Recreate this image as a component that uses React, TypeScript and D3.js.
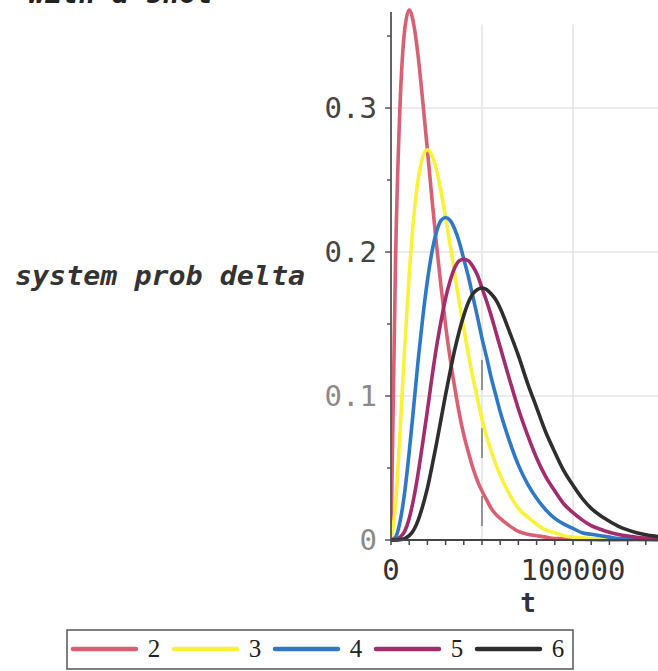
import React from "react";
import { scaleLinear, line, curveMonotoneX } from "d3";

// sampled times (t) for all curves
const tValues = [
  0, 2500, 5000, 7500, 10000, 12500, 15000, 17500, 20000, 22500, 25000, 27500,
  30000, 32500, 35000, 37500, 40000, 42500, 45000, 47500, 50000, 52500, 55000,
  57500, 60000, 65000, 70000, 75000, 80000, 85000, 90000, 95000, 100000,
  105000, 110000, 115000, 120000, 125000, 130000, 135000, 140000, 145000, 150000,
];

const s2 = [
  0, 0.195, 0.303, 0.354, 0.368, 0.358, 0.335, 0.304, 0.271, 0.237, 0.205, 0.176,
  0.149, 0.126, 0.106, 0.088, 0.073, 0.061, 0.05, 0.041, 0.034, 0.028, 0.022,
  0.018, 0.015, 0.01, 0.006, 0.004, 0.003, 0.002, 0.001, 0.001, 0.0005, 0.0003,
  0.0002, 0.0001, 0.0001, 0, 0, 0, 0, 0, 0,
];
const s3 = [
  0, 0.024, 0.076, 0.133, 0.184, 0.224, 0.251, 0.266, 0.271, 0.267, 0.257, 0.242,
  0.224, 0.205, 0.185, 0.165, 0.147, 0.129, 0.113, 0.098, 0.084, 0.072, 0.062,
  0.053, 0.045, 0.032, 0.022, 0.016, 0.011, 0.007, 0.005, 0.003, 0.002, 0.0015,
  0.001, 0.0007, 0.0004, 0.0003, 0.0002, 0.0001, 0.0001, 0.0001, 0,
];
const s4 = [
  0, 0.002, 0.013, 0.033, 0.061, 0.093, 0.126, 0.155, 0.18, 0.2, 0.214, 0.222,
  0.224, 0.222, 0.216, 0.207, 0.195, 0.183, 0.169, 0.155, 0.14, 0.127, 0.113,
  0.101, 0.089, 0.069, 0.052, 0.039, 0.029, 0.021, 0.015, 0.011, 0.008, 0.005,
  0.004, 0.003, 0.002, 0.001, 0.001, 0.0005, 0.0004, 0.0002, 0.0002,
];
const s5 = [
  0, 0.0001, 0.002, 0.006, 0.015, 0.029, 0.047, 0.068, 0.09, 0.113, 0.134, 0.152,
  0.168, 0.18, 0.189, 0.194, 0.195, 0.194, 0.19, 0.184, 0.175, 0.166, 0.156,
  0.145, 0.134, 0.112, 0.091, 0.073, 0.057, 0.044, 0.034, 0.025, 0.019, 0.014,
  0.01, 0.0075, 0.0054, 0.0038, 0.0027, 0.0019, 0.0013, 0.0009, 0.0006,
];
const s6 = [
  0, 0, 0.0002, 0.001, 0.003, 0.007, 0.014, 0.024, 0.036, 0.051, 0.067, 0.084,
  0.101, 0.117, 0.132, 0.145, 0.156, 0.165, 0.171, 0.174, 0.175, 0.174, 0.171,
  0.167, 0.161, 0.145, 0.128, 0.109, 0.092, 0.075, 0.061, 0.048, 0.038, 0.029,
  0.022, 0.017, 0.013, 0.0095, 0.007, 0.0051, 0.0037, 0.0027, 0.0019,
];

const seriesLabels = ["2", "3", "4", "5", "6"];
const seriesValues = [s2, s3, s4, s5, s6];
const seriesColors = ["#d95f73", "#f8f23c", "#2f78c8", "#a22c6c", "#2e2e2e"];

const yTicks = [0, 0.1, 0.2, 0.3];
const yMinorTicks = [0.05, 0.15, 0.25, 0.35];
const xTickLabels = [0, 100000];
const xGrid = [50000, 100000];
const markerT = 50000;
const markerTop = 0.125;

const title = "with a shot";
const yLabel = "system prob delta";
const xLabel = "t";

const W = 658;
const H = 671;
const mono = "'DejaVu Sans Mono', monospace";

export default function App() {
  const x = scaleLinear().domain([0, 150000]).range([391, 664]);
  const y = scaleLinear().domain([0, 0.3667]).range([540, 12]);

  const mkLine = (vals: number[]) =>
    line<number>()
      .x((_, i) => x(tValues[i]))
      .y((d) => y(d))
      .curve(curveMonotoneX)(vals) as string;

  const x0 = x(0);
  const y0 = y(0);

  return (
    <svg
      width={W}
      height={H}
      style={{ position: "absolute", left: 0, top: 0, background: "#fff" }}
    >
      {/* title, cut off by the top edge as in the source image */}
      <text
        x={28}
        y={3}
        fontFamily={mono}
        fontWeight="bold"
        fontStyle="italic"
        fontSize={28}
        textLength={185}
        lengthAdjust="spacingAndGlyphs"
        fill="#222"
      >
        {title}
      </text>

      {/* grid */}
      {yTicks.filter((d) => d > 0).map((d) => (
        <line key={"gy" + d} x1={x0} x2={W} y1={y(d)} y2={y(d)} stroke="#e6e6e6" strokeWidth={1.5} />
      ))}
      {xGrid.map((d) => (
        <line key={"gx" + d} x1={x(d)} x2={x(d)} y1={y(0.358)} y2={y0} stroke="#e3e3e3" strokeWidth={1.5} />
      ))}
      <line
        x1={x(markerT)}
        x2={x(markerT)}
        y1={y(markerTop)}
        y2={y0}
        stroke="#777"
        strokeWidth={1.5}
        strokeDasharray="30,38"
      />

      {/* curves */}
      <defs>
        <clipPath id="plotclip">
          <rect x={x0} y={0} width={W - x0} height={y0 + 2} />
        </clipPath>
      </defs>
      <g clipPath="url(#plotclip)">
        {seriesValues.map((vals, i) => (
          <path
            key={seriesLabels[i]}
            d={mkLine(vals)}
            fill="none"
            stroke={seriesColors[i]}
            strokeWidth={3.6}
            strokeLinejoin="round"
          />
        ))}
      </g>

      {/* axes */}
      <line x1={x0} x2={x0} y1={y(0.3667)} y2={y0} stroke="#555" strokeWidth={1.8} />
      <line x1={x0} x2={W} y1={y0} y2={y0} stroke="#444" strokeWidth={1.8} />
      {yTicks.map((d) => (
        <line key={"yt" + d} x1={x0 - 6} x2={x0} y1={y(d)} y2={y(d)} stroke="#555" strokeWidth={1.5} />
      ))}
      {yMinorTicks.map((d) => (
        <line key={"ym" + d} x1={x0 - 4} x2={x0} y1={y(d)} y2={y(d)} stroke="#555" strokeWidth={1.5} />
      ))}
      {x.ticks(15).map((d) => (
        <line key={"xt" + d} x1={x(d)} x2={x(d)} y1={y0 - 1} y2={y0 + 5} stroke="#444" strokeWidth={1.5} />
      ))}

      {/* tick labels */}
      {yTicks.map((d) => (
        <text
          key={"yl" + d}
          x={377}
          y={y(d)}
          dy="0.36em"
          textAnchor="end"
          fontFamily={mono}
          fontSize={29}
          fill={d >= 0.2 ? "#444" : "#8a8a8a"}
        >
          {d === 0 ? "0" : d.toFixed(1)}
        </text>
      ))}
      {xTickLabels.map((d) => (
        <text
          key={"xl" + d}
          x={x(d)}
          y={580}
          textAnchor="middle"
          fontFamily={mono}
          fontSize={29}
          fill="#333"
        >
          {String(d)}
        </text>
      ))}

      {/* axis titles */}
      <text
        x={15}
        y={285}
        fontFamily={mono}
        fontWeight="bold"
        fontStyle="italic"
        fontSize={26}
        textLength={290}
        lengthAdjust="spacingAndGlyphs"
        fill="#333"
      >
        {yLabel}
      </text>
      <text
        x={528}
        y={612}
        textAnchor="middle"
        fontFamily={mono}
        fontWeight="bold"
        fontSize={26}
        fill="#333"
      >
        {xLabel}
      </text>

      {/* legend */}
      <rect x={67} y={630} width={506} height={39} fill="none" stroke="#555" strokeWidth={1.5} />
      {seriesLabels.map((lab, i) => {
        const lx = 73 + 101 * i;
        return (
          <g key={"lg" + lab}>
            <line x1={lx} x2={lx + 63} y1={649} y2={649} stroke={seriesColors[i]} strokeWidth={4.5} strokeLinecap="round" />
            <text
              x={lx + 81}
              y={657}
              textAnchor="middle"
              fontFamily="'Liberation Serif', serif"
              fontSize={25}
              fill="#222"
            >
              {lab}
            </text>
          </g>
        );
      })}
    </svg>
  );
}
